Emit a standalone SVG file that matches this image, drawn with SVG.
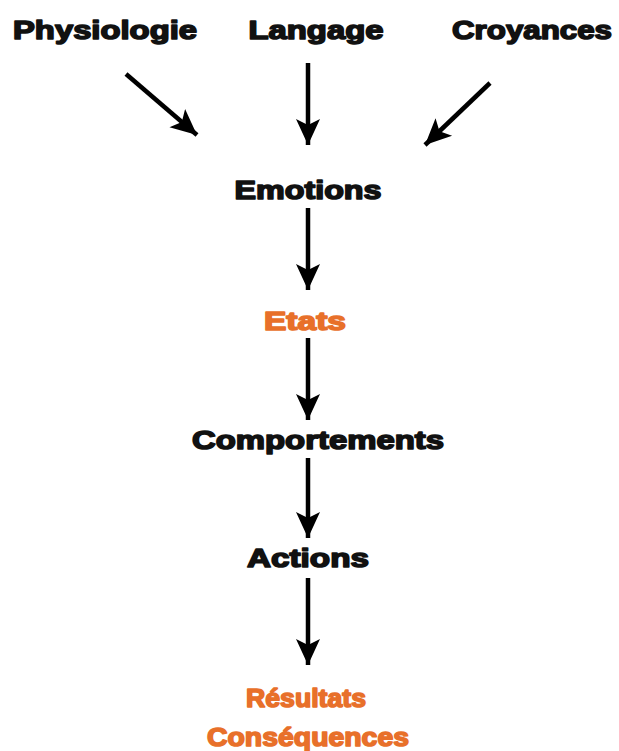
<svg xmlns="http://www.w3.org/2000/svg" width="619" height="751" viewBox="0 0 619 751">
<style>
text{font-family:"Liberation Sans",Arial,sans-serif;font-weight:bold;font-size:26px;text-anchor:middle;stroke-width:1.6;stroke-linejoin:round}
.k{fill:#111;stroke:#111}
.o{fill:#E8702A;stroke:#E8702A}
.c line{stroke:#000;stroke-width:4.5;marker-end:url(#ah)}
</style>
<defs>
<marker id="ah" markerUnits="userSpaceOnUse" markerWidth="28" markerHeight="28" viewBox="0 0 28 28" refX="26" refY="14" orient="auto">
<path d="M0,2 L26,14 L0,26 L6,14 Z" fill="#000"/>
</marker>
</defs>
<rect width="619" height="751" fill="#fff"/>
<g id="physiologie"><text class="k" x="105" y="39" textLength="184" lengthAdjust="spacingAndGlyphs">Physiologie</text></g>
<g id="langage"><text class="k" x="316" y="39" textLength="135" lengthAdjust="spacingAndGlyphs">Langage</text></g>
<g id="croyances"><text class="k" x="532" y="39" textLength="160" lengthAdjust="spacingAndGlyphs">Croyances</text></g>
<g id="emotions"><text class="k" x="308" y="199" textLength="147" lengthAdjust="spacingAndGlyphs">Emotions</text></g>
<g id="etats"><text class="o" x="305" y="330" textLength="82" lengthAdjust="spacingAndGlyphs">Etats</text></g>
<g id="comportements"><text class="k" x="318" y="449" textLength="252" lengthAdjust="spacingAndGlyphs">Comportements</text></g>
<g id="actions"><text class="k" x="308" y="567" textLength="122" lengthAdjust="spacingAndGlyphs">Actions</text></g>
<g id="resultats"><text class="o" x="306" y="707" textLength="120" lengthAdjust="spacingAndGlyphs">Résultats</text></g>
<g id="consequences"><text class="o" x="308" y="746" textLength="202" lengthAdjust="spacingAndGlyphs">Conséquences</text></g>
<g id="connectors" class="c">
<line x1="126" y1="74" x2="197" y2="135"/>
<line x1="308" y1="63" x2="308" y2="145"/>
<line x1="490" y1="83" x2="425" y2="145"/>
<line x1="308" y1="208" x2="308" y2="290"/>
<line x1="308" y1="338" x2="308" y2="420"/>
<line x1="308" y1="458" x2="308" y2="538"/>
<line x1="308" y1="578" x2="308" y2="665"/>
</g>
</svg>
